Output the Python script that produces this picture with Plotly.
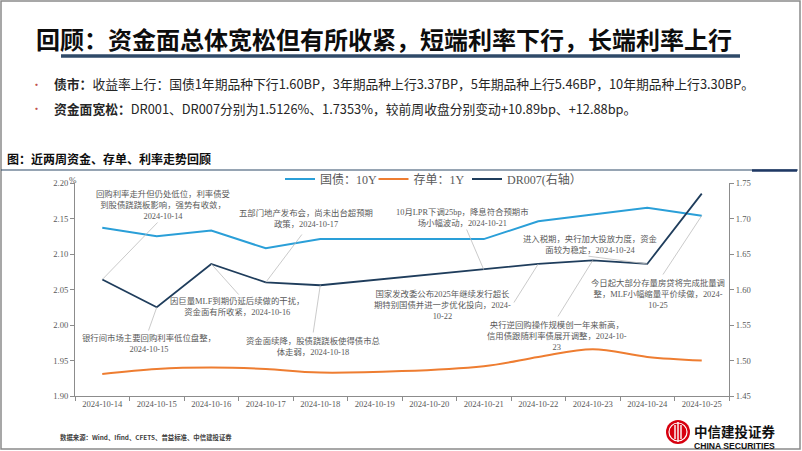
import plotly.graph_objects as go

# ---------------- data ----------------
dates = ["2024-10-14", "2024-10-15", "2024-10-16", "2024-10-17", "2024-10-18", "2024-10-19",
         "2024-10-20", "2024-10-21", "2024-10-22", "2024-10-23", "2024-10-24", "2024-10-25"]
gz_10y = [2.137, 2.125, 2.133, 2.108, 2.121, None, None, 2.121, 2.146, 2.156, 2.165, 2.154]
cd_1y = [1.931, 1.938, 1.940, 1.938, 1.933, None, None, 1.942, 1.955, 1.966, 1.955, 1.950]
dr007 = [1.614, 1.575, 1.636, 1.610, 1.606, None, None, 1.628, 1.636, 1.641, 1.636, 1.735]

series_names = ["国债：10Y", "存单：1Y", "DR007(右轴）"]
left_ticks = [1.90, 1.95, 2.00, 2.05, 2.10, 2.15, 2.20]
right_ticks = [1.45, 1.50, 1.55, 1.60, 1.65, 1.70, 1.75]

# event notes: (date, series the note points at, text)
events = [
    ("2024-10-14", "dr007", "回购利率走升但仍处低位，利率债受<br>到股债跷跷板影响，强势有收敛，<br>2024-10-14"),
    ("2024-10-17", "dr007", "五部门地产发布会，尚未出台超预期<br>政策，2024-10-17"),
    ("2024-10-21", "dr007", "10月LPR下调25bp，降息符合预期市<br>场小幅波动，2024-10-21"),
    ("2024-10-24", "dr007", "进入税期，央行加大投放力度，资金<br>面较为稳定，2024-10-24"),
    ("2024-10-25", "gz", "今日起大部分存量房贷将完成批量调<br>整，MLF小幅缩量平价续做，2024-<br>10-25"),
    ("2024-10-22", "dr007", "国家发改委公布2025年继续发行超长<br>期特别国债并进一步优化投向，2024-<br>10-22"),
    ("2024-10-16", "dr007", "因巨量MLF到期仍延后续做的干扰，<br>资金面有所收紧，2024-10-16"),
    ("2024-10-15", "dr007", "银行间市场主要回购利率低位盘整，<br>2024-10-15"),
    ("2024-10-18", "dr007", "资金面续降，股债跷跷板使得债市总<br>体走弱，2024-10-18"),
    ("2024-10-23", "dr007", "央行逆回购操作规模创一年来新高，<br>信用债跟随利率债展开调整，2024-10-<br>23"),
]

title_text = "回顾：资金面总体宽松但有所收紧，短端利率下行，长端利率上行"
bullet1 = "<b>债市：</b>收益率上行：国债1年期品种下行1.60BP，3年期品种上行3.37BP，5年期品种上行5.46BP，10年期品种上行3.30BP。"
bullet2 = "<b>资金面宽松：</b>DR001、DR007分别为1.5126%、1.7353%，较前周收盘分别变动+10.89bp、+12.88bp。"
caption = "图：近两周资金、存单、利率走势回顾"
source = "数据来源：Wind、Ifind、CFETS、普益标准、中信建投证券"

# ---------------- layout geometry ----------------
FW, FH = 802, 451
ML, MR, MT, MB = 75, 73, 183, 55
PW, PH = FW - ML - MR, FH - MT - MB
LRANGE = (1.90, 2.20)
RRANGE = (1.45, 1.75)


def PX(x):
    return (x - ML) / PW


def PY(y):
    return (FH - MB - y) / PH


def xpix(i):
    return ML + (i + 0.5) * PW / len(dates)


def ypix(v, rng):
    return MT + (rng[1] - v) / (rng[1] - rng[0]) * PH


# note text centres and leader-line ends (pixels)
note_pos = [(163, 205), (306, 218), (462, 217), (590, 244), (658, 294),
            (442, 305), (237, 306), (149, 343), (313, 346), (557, 336)]
line_end = [(159, 221), (303, 233), (466, 228), (587, 256), (662, 276),
            (513, 304), (240, 296), (148, 332), (313, 334), (557, 318)]

SERIF = "Liberation Serif, Noto Sans CJK SC"
CJK = "Noto Sans CJK SC"
AXIS_C = "#8C8C8C"
TXT_C = "#595959"

fig = go.Figure()
fig.add_trace(go.Scatter(x=dates, y=gz_10y, name=series_names[0], mode="lines",
                         line=dict(color="#2A9FD8", width=2), connectgaps=True, yaxis="y"))
fig.add_trace(go.Scatter(x=dates, y=cd_1y, name=series_names[1], mode="lines",
                         line=dict(color="#EE7D31", width=2, shape="spline", smoothing=1.0),
                         connectgaps=True, yaxis="y"))
fig.add_trace(go.Scatter(x=dates, y=dr007, name=series_names[2], mode="lines",
                         line=dict(color="#1F3D5C", width=1.8), connectgaps=True, yaxis="y2",
                         legendwidth=80))

annotations = []
for k, (d, ser, txt) in enumerate(events):
    i = dates.index(d)
    if ser == "gz":
        v, yref, rng = gz_10y[i], "y", LRANGE
    else:
        v, yref, rng = dr007[i], "y2", RRANGE
    ex, ey = line_end[k]
    annotations.append(dict(x=d, y=v, xref="x", yref=yref, text="", showarrow=True,
                            arrowhead=0, arrowwidth=0.8, arrowcolor="#BDBDBD",
                            ax=ex - xpix(i), ay=ey - ypix(v, rng), axref="pixel", ayref="pixel",
                            standoff=0, startstandoff=0))
    cx, cy = note_pos[k]
    annotations.append(dict(x=PX(cx), y=PY(cy), xref="paper", yref="paper", text=txt,
                            showarrow=False, xanchor="center", yanchor="middle", align="center",
                            font=dict(family=SERIF, size=8.4, color=TXT_C)))

# page texts
annotations += [
    dict(x=PX(34), y=PY(38), xref="paper", yref="paper", text="<b>" + title_text + "</b>",
         showarrow=False, xanchor="left", yanchor="middle",
         font=dict(family=CJK, size=24, color="#0D0D0D")),
    dict(x=PX(36), y=PY(84), xref="paper", yref="paper", text="•", showarrow=False,
         xanchor="center", yanchor="middle", font=dict(family=CJK, size=11, color="#C0504D")),
    dict(x=PX(36), y=PY(108), xref="paper", yref="paper", text="•", showarrow=False,
         xanchor="center", yanchor="middle", font=dict(family=CJK, size=11, color="#C0504D")),
    dict(x=PX(52), y=PY(84), xref="paper", yref="paper", text=bullet1, showarrow=False,
         xanchor="left", yanchor="middle", font=dict(family=CJK, size=12.8, color="#262626")),
    dict(x=PX(52), y=PY(108), xref="paper", yref="paper", text=bullet2, showarrow=False,
         xanchor="left", yanchor="middle", font=dict(family=CJK, size=12.8, color="#262626")),
    dict(x=PX(5), y=PY(158), xref="paper", yref="paper", text="<b>" + caption + "</b>",
         showarrow=False, xanchor="left", yanchor="middle",
         font=dict(family=CJK, size=12, color="#0D0D0D")),
    dict(x=PX(73), y=PY(180), xref="paper", yref="paper", text="%", showarrow=False,
         xanchor="center", yanchor="middle", font=dict(family=SERIF, size=9, color=TXT_C)),
    dict(x=PX(58), y=PY(437), xref="paper", yref="paper", text="<b>" + source + "</b>",
         showarrow=False, xanchor="left", yanchor="middle",
         font=dict(family=CJK, size=6.4, color="#404040")),
    dict(x=PX(692), y=PY(436), xref="paper", yref="paper",
         text="<b><span style='font-size:13.5px;font-family:Noto Sans CJK SC'>中信建投证券</span></b><br>"
              "<b><span style='font-size:8.6px;font-family:Liberation Sans'>CHINA SECURITIES</span></b>",
         showarrow=False, xanchor="left", yanchor="middle", align="left",
         font=dict(family=CJK, size=9.5, color="#111111")),
]

shapes = [
    # outer frame
    dict(type="rect", xref="paper", yref="paper", x0=PX(1), x1=PX(800), y0=PY(1), y1=PY(449),
         line=dict(color="#8A8A8A", width=1.5)),
    # title underline
    dict(type="line", xref="paper", yref="paper", x0=PX(61), x1=PX(740), y0=PY(56), y1=PY(56),
         line=dict(color="#2F4A68", width=3.5)),
    # caption rule
    dict(type="line", xref="paper", yref="paper", x0=PX(1), x1=PX(798), y0=PY(170), y1=PY(170),
         line=dict(color="#2F4A68", width=1.2)),
    dict(type="line", xref="paper", yref="paper", x0=PX(752), x1=PX(797), y0=PY(170.5), y1=PY(170.5),
         line=dict(color="#1F3864", width=2.5)),
    # logo
    dict(type="circle", xref="paper", yref="paper", x0=PX(666), x1=PX(690), y0=PY(420), y1=PY(444),
         fillcolor="#D7000F", line=dict(color="#D7000F", width=0)),
    dict(type="circle", xref="paper", yref="paper", x0=PX(669), x1=PX(687), y0=PY(423), y1=PY(441),
         fillcolor="rgba(0,0,0,0)", line=dict(color="white", width=1.2)),
    dict(type="line", xref="paper", yref="paper", x0=PX(675), x1=PX(675), y0=PY(425), y1=PY(439),
         line=dict(color="white", width=1.4)),
    dict(type="line", xref="paper", yref="paper", x0=PX(678), x1=PX(678), y0=PY(422), y1=PY(442),
         line=dict(color="white", width=1.4)),
    dict(type="line", xref="paper", yref="paper", x0=PX(681), x1=PX(681), y0=PY(425), y1=PY(439),
         line=dict(color="white", width=1.4)),
]

axis_font = dict(family=SERIF, size=8.6, color=TXT_C)
fig.update_layout(
    width=FW, height=FH,
    margin=dict(l=ML, r=MR, t=MT, b=MB, pad=0),
    paper_bgcolor="white", plot_bgcolor="white",
    showlegend=True,
    legend=dict(orientation="h", x=PX(280), y=PY(179), xanchor="left", yanchor="middle",
                entrywidth=48.5, entrywidthmode="pixels", bgcolor="rgba(0,0,0,0)",
                font=dict(family=SERIF, size=12, color=TXT_C), traceorder="normal"),
    xaxis=dict(type="category", categoryorder="array", categoryarray=dates,
               range=[-0.5, len(dates) - 0.5], showline=True, linecolor=AXIS_C, linewidth=1,
               ticks="outside", tickson="boundaries", ticklen=4, tickcolor=AXIS_C,
               showgrid=False, zeroline=False, tickfont=axis_font),
    yaxis=dict(range=list(LRANGE), tickvals=left_ticks, ticktext=[f"{v:.2f}" for v in left_ticks],
               showline=True, linecolor=AXIS_C, linewidth=1, ticks="outside", ticklen=4,
               tickcolor=AXIS_C, showgrid=False, zeroline=False, tickfont=axis_font),
    yaxis2=dict(range=list(RRANGE), tickvals=right_ticks, ticktext=[f"{v:.2f}" for v in right_ticks],
                overlaying="y", side="right", showline=True, linecolor=AXIS_C, linewidth=1,
                ticks="outside", ticklen=4, tickcolor=AXIS_C, showgrid=False, zeroline=False,
                tickfont=axis_font),
    annotations=annotations,
    shapes=shapes,
)

fig.write_html("out.html", config={"displayModeBar": False},
               post_script="document.body.style.margin='0';document.body.style.overflow='hidden';")
